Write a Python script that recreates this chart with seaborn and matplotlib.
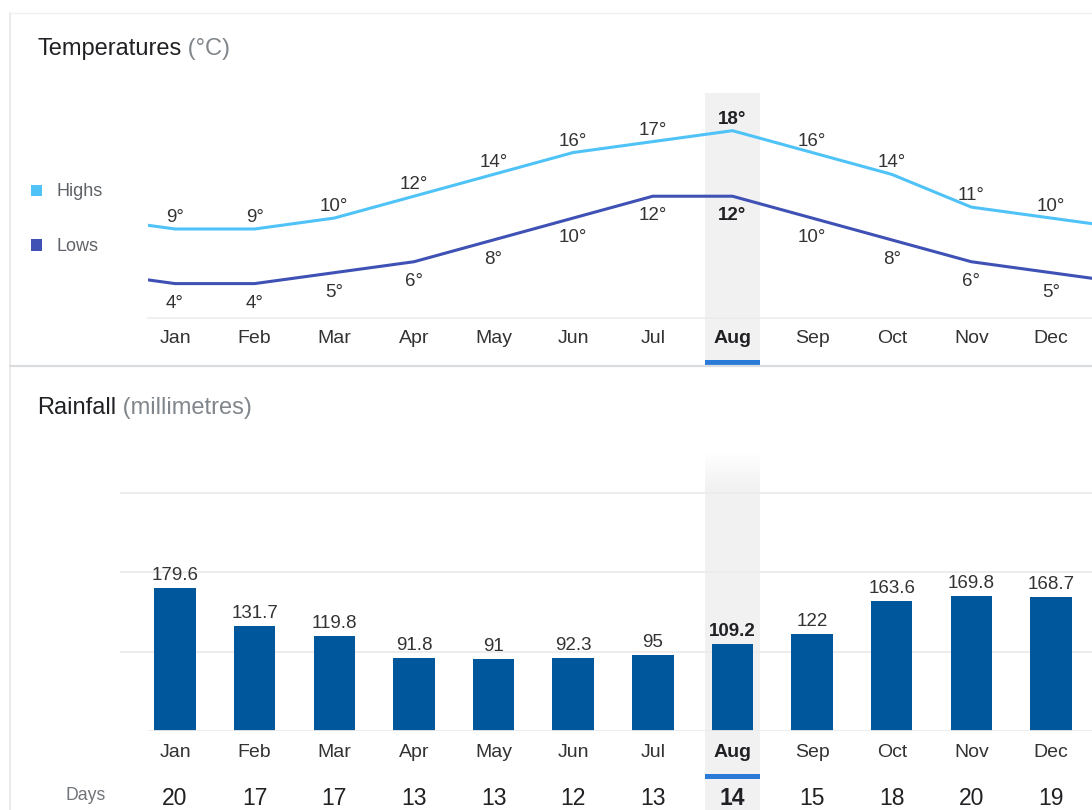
"""
Monthly climate card: temperature highs/lows line chart on top,
rainfall bars with rainy-day counts underneath. Saves out.png.
"""
import matplotlib
matplotlib.use("Agg")
import matplotlib.pyplot as plt
from matplotlib.patches import Rectangle
from matplotlib.lines import Line2D
from matplotlib.transforms import blended_transform_factory
import seaborn as sns

# --- Data ---
months = ["Jan", "Feb", "Mar", "Apr", "May", "Jun",
          "Jul", "Aug", "Sep", "Oct", "Nov", "Dec"]
highs = [9, 9, 10, 12, 14, 16, 17, 18, 16, 14, 11, 10]
lows = [4, 4, 5, 6, 8, 10, 12, 12, 10, 8, 6, 5]
rainfall = [179.6, 131.7, 119.8, 91.8, 91, 92.3, 95, 109.2, 122, 163.6, 169.8, 168.7]
rain_days = [20, 17, 17, 13, 13, 12, 13, 14, 15, 18, 20, 19]
current_month = "Aug"

# --- Style ---
HIGH_COLOR = "#4fc3f7"
LOW_COLOR = "#3f51b5"
BAR_COLOR = "#01579b"
BAND_COLOR = "#f1f1f1"
ACCENT = "#2a7bd8"
TEXT_DARK = "#202124"
TEXT_MID = "#333333"
TEXT_GRAY = "#70757a"

W, H = 1092, 810
sns.set_theme(style="white")
plt.rcParams["font.family"] = ["Liberation Sans", "DejaVu Sans"]

fig = plt.figure(figsize=(W / 100, H / 100), dpi=100)
fig.patch.set_facecolor("white")


def fy(py):
    return 1 - py / H


def fx(px):
    return px / W


def add_axes_px(x0, y0, x1, y1):
    ax = fig.add_axes([fx(x0), fy(y1), fx(x1) - fx(x0), fy(y0) - fy(y1)])
    ax.set_facecolor("none")
    for s in ax.spines.values():
        s.set_visible(False)
    return ax


# month slot geometry (Jan centre at x=175 px, slots 79.64 px apart)
SLOT = 79.64
X0 = 175
cur = months.index(current_month)
idx = list(range(len(months)))

# --- card borders ---
fig.add_artist(Line2D([fx(10), fx(10)], [fy(13), fy(810)], color="#e6e6e6", lw=1.2,
                      transform=fig.transFigure))
fig.add_artist(Line2D([fx(10), 1], [fy(13), fy(13)], color="#f0f0f0", lw=1.0,
                      transform=fig.transFigure))
fig.add_artist(Line2D([fx(10), 1], [fy(365.5), fy(365.5)], color="#dadce0", lw=1.6,
                      transform=fig.transFigure))

# --- Temperatures ---
ax_t = add_axes_px(148, 93, 1092, 318)
ax_t.set_xlim((148 - X0) / SLOT, (1092 - X0) / SLOT)
ax_t.set_ylim(0.85, 21.45)
ax_t.set_xticks([])
ax_t.set_yticks([])
ax_t.spines["bottom"].set_visible(True)
ax_t.spines["bottom"].set_color("#ececec")
ax_t.spines["bottom"].set_linewidth(1.2)

# wrap the series so the lines run off both edges like a cycle
wrap_x = [-1] + idx + [len(months)]
sns.lineplot(x=wrap_x, y=[highs[-1]] + highs + [highs[0]], color=HIGH_COLOR,
             linewidth=2.2, ax=ax_t, zorder=3)
sns.lineplot(x=wrap_x, y=[lows[-1]] + lows + [lows[0]], color=LOW_COLOR,
             linewidth=2.2, ax=ax_t, zorder=3)

tr_t = blended_transform_factory(ax_t.transData, fig.transFigure)
ax_t.add_patch(Rectangle((cur - 0.34, fy(360)), 0.68, fy(93) - fy(360),
                         transform=tr_t, color=BAND_COLOR, lw=0, zorder=0, clip_on=False))
ax_t.add_patch(Rectangle((cur - 0.34, fy(365)), 0.68, fy(360) - fy(365),
                         transform=tr_t, color=ACCENT, lw=0, zorder=1, clip_on=False))

for i, (m, hi, lo) in enumerate(zip(months, highs, lows)):
    bold = "bold" if m == current_month else "normal"
    col = TEXT_DARK if m == current_month else TEXT_MID
    ax_t.annotate(f"{hi}°", (i, hi), xytext=(0, 7), textcoords="offset pixels",
                  ha="center", va="baseline", fontsize=13.5, color=col, fontweight=bold)
    ax_t.annotate(f"{lo}°", (i, lo), xytext=(0, -24), textcoords="offset pixels",
                  ha="center", va="baseline", fontsize=13.5, color=col, fontweight=bold)
    ax_t.text(i, fy(343), m, transform=tr_t, ha="center", va="baseline",
              fontsize=14, color=col, fontweight=bold)

t1 = fig.text(fx(37), fy(55), "Temperatures", fontsize=17, color=TEXT_DARK, va="baseline")
fig.add_artist(plt.Annotation(" (°C)", xy=(1, 0), xycoords=t1, fontsize=17,
                              color="#80868b", va="bottom", ha="left"))

# legend
for label, color, top in [("Highs", HIGH_COLOR, 185), ("Lows", LOW_COLOR, 239.5)]:
    fig.add_artist(Rectangle((fx(31), fy(top + 11)), fx(11), fy(0) - fy(11),
                             transform=fig.transFigure, color=color, lw=0))
    fig.text(fx(56), fy(top + 11.5), label, fontsize=13, color="#5f6368", va="baseline")

# --- Rainfall ---
ax_r = add_axes_px(120, 453, 1092, 731)
sns.barplot(x=months, y=rainfall, color=BAR_COLOR, saturation=1, width=0.52,
            linewidth=0, ax=ax_r, zorder=3)
ax_r.set_xlim((120 - X0) / SLOT, (1092 - X0) / SLOT)
ax_r.set_ylim(0, 278 / 0.795)
ax_r.set_xticks([])
ax_r.set_yticks([100, 200, 300])
ax_r.set_yticklabels([])
ax_r.tick_params(left=False)
ax_r.set_xlabel("")
ax_r.set_ylabel("")
ax_r.yaxis.grid(True, color="#ececec", linewidth=1.3)
ax_r.set_axisbelow(True)
ax_r.axhline(0, xmin=(148 - 120) / (1092 - 120), color="#ececec", lw=1.3, zorder=4)

tr_r = blended_transform_factory(ax_r.transData, fig.transFigure)
# grey highlight band, fading in at the top
ax_r.add_patch(Rectangle((cur - 0.34, fy(810)), 0.68, fy(490) - fy(810),
                         transform=tr_r, color=BAND_COLOR, lw=0, zorder=0, clip_on=False))
n_fade = 20
for k in range(n_fade):
    y_top = 453 + k * (490 - 453) / n_fade
    y_bot = 453 + (k + 1) * (490 - 453) / n_fade
    ax_r.add_patch(Rectangle((cur - 0.34, fy(y_bot)), 0.68, fy(y_top) - fy(y_bot),
                             transform=tr_r, color=BAND_COLOR, alpha=(k + 1) / n_fade,
                             lw=0, zorder=0, clip_on=False))
ax_r.add_patch(Rectangle((cur - 0.34, fy(779)), 0.68, fy(774) - fy(779),
                         transform=tr_r, color=ACCENT, lw=0, zorder=1, clip_on=False))

for i, (m, r, d) in enumerate(zip(months, rainfall, rain_days)):
    bold = "bold" if m == current_month else "normal"
    col = TEXT_DARK if m == current_month else TEXT_MID
    ax_r.annotate(f"{r:g}", (i, r), xytext=(0, 8), textcoords="offset pixels",
                  ha="center", va="baseline", fontsize=13.5, color=col, fontweight=bold)
    ax_r.text(i, fy(757), m, transform=tr_r, ha="center", va="baseline",
              fontsize=14, color=col, fontweight=bold)
    ax_r.text(i, fy(805), str(d), transform=tr_r, ha="center", va="baseline",
              fontsize=16.5, color=TEXT_DARK, fontweight=bold)

fig.text(fx(106), fy(800), "Days", fontsize=12.7, color=TEXT_GRAY, ha="right", va="baseline")

t2 = fig.text(fx(37), fy(414), "Rainfall", fontsize=17, color=TEXT_DARK, va="baseline")
fig.add_artist(plt.Annotation(" (millimetres)", xy=(1, 0), xycoords=t2, fontsize=17,
                              color="#80868b", va="bottom", ha="left"))

fig.savefig("out.png", dpi=100)
print("Saved: out.png")
